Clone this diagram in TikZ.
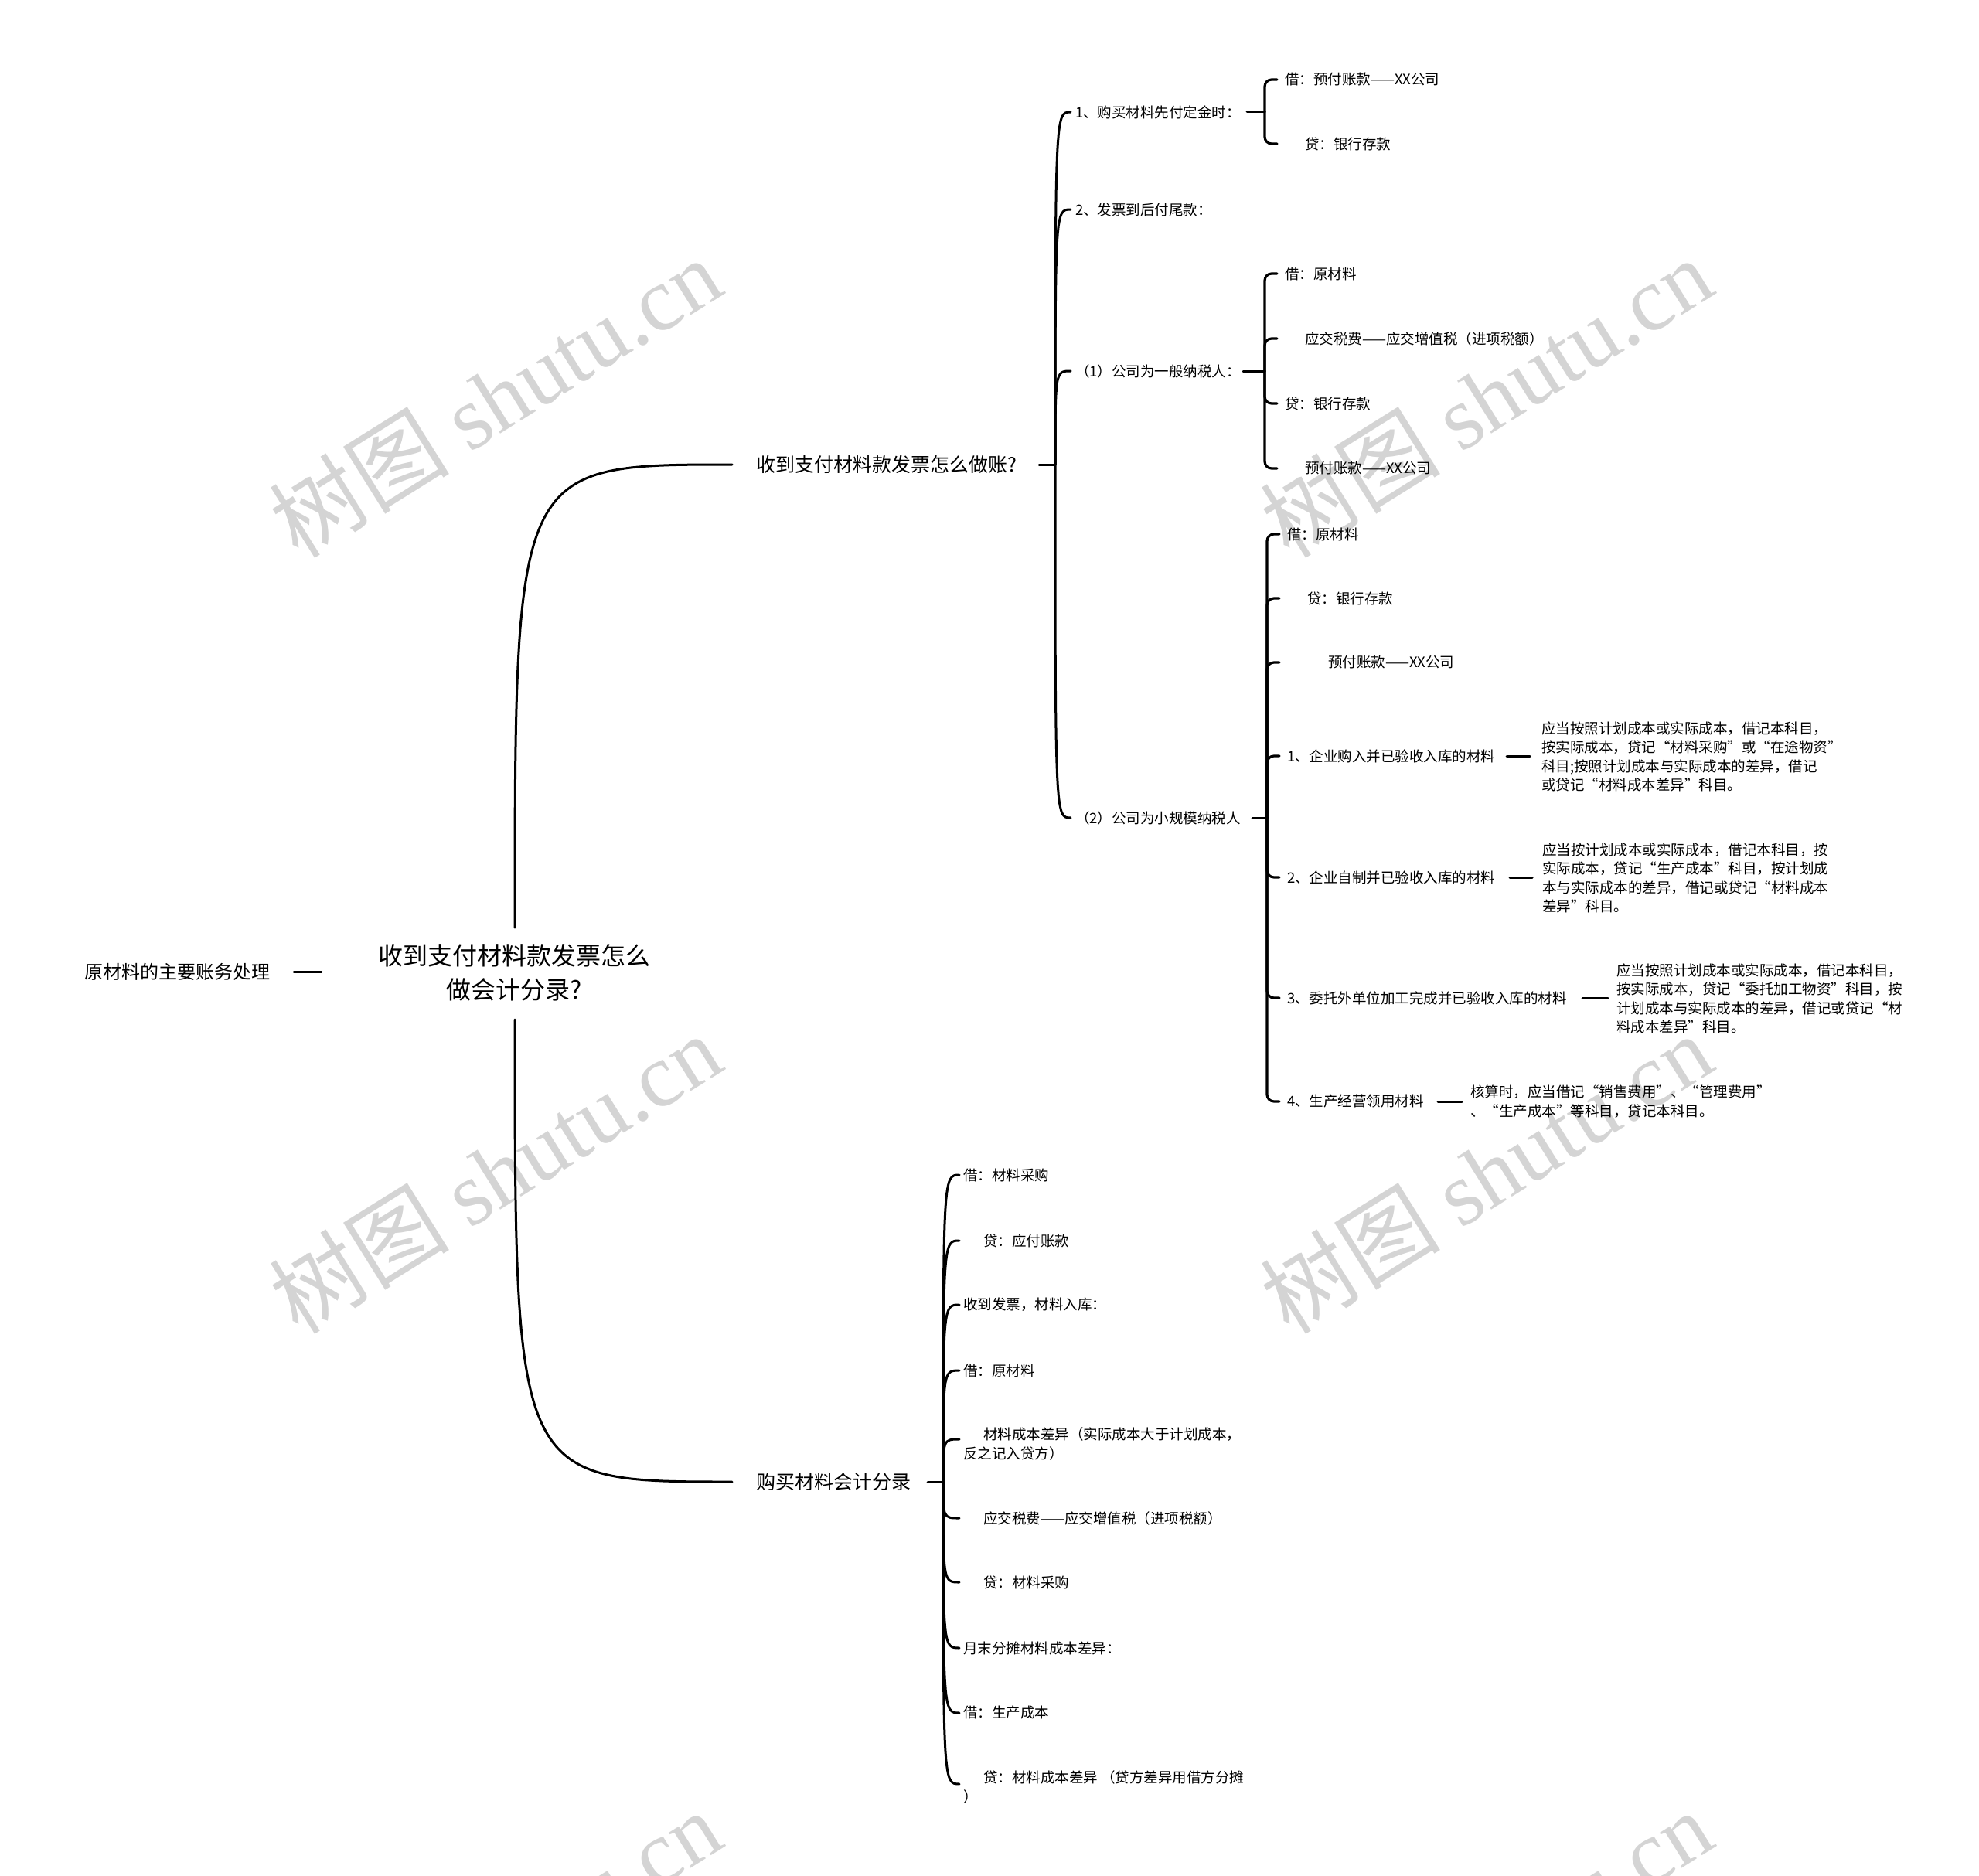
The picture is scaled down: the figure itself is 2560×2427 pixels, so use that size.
\documentclass[tikz,border=0pt]{standalone}
\usepackage{fontspec}
\setmainfont{Noto Sans CJK SC}
\newfontfamily\wmfont{Liberation Serif}
\tikzset{
  sm/.style={font=\fontsize{18.5pt}{24.5pt}\selectfont, inner sep=0pt, anchor=west, align=left},
  br/.style={font=\fontsize{25pt}{30pt}\selectfont, inner sep=0pt, anchor=west},
  ln/.style={line width=3pt, line cap=round, line join=round},
  bk/.style={line width=3.2pt, line cap=round, rounded corners=9pt},
  wm/.style={text=black!17, rotate=32, font=\fontsize{117pt}{117pt}\selectfont, inner sep=0pt}
}
\begin{document}
\begin{tikzpicture}[x=1pt,y=-1pt]
\useasboundingbox (0,0) rectangle (2560,2427);
\fill[white] (0,0) rectangle (2560,2427);
\clip (0,0) rectangle (2560,2427);
% watermarks
\node[wm] (w1) at (640,514) {树图 {\wmfont shutu.cn}};
\node[wm] (w2) at (1922,514) {树图 {\wmfont shutu.cn}};
\node[wm] (w3) at (640,1518) {树图 {\wmfont shutu.cn}};
\node[wm] (w4) at (1922,1518) {树图 {\wmfont shutu.cn}};
\node[wm] (w5) at (640,2523) {树图 {\wmfont shutu.cn}};
\node[wm] (w6) at (1922,2523) {树图 {\wmfont shutu.cn}};

% root and centre
\node[font=\fontsize{24pt}{28pt}\selectfont, inner sep=0pt, anchor=west] (root) at (109,1257) {原材料的主要账务处理};
\node[font=\fontsize{32pt}{44pt}\selectfont, align=center, inner sep=0pt] (cen) at (665,1258) {收到支付材料款发票怎么\\做会计分录?};
\coordinate (rs1) at (380,1257); \coordinate (rs2) at (416,1257);
\draw[ln] (rs1) -- (rs2);
\coordinate (ct) at (666,1200); \coordinate (cb) at (666,1319);

% branch 1
\node[br] (b1) at (978,601) {收到支付材料款发票怎么做账?};
\coordinate (b1l) at (947,601);
\draw[ln] (ct) .. controls (666,601) and (666,601) .. (b1l);
\coordinate (b1s) at (1344,601); \coordinate (j1) at (1365,601);
\draw[ln] (b1s) -- (j1);

\node[sm] (c1) at (1391,145) {1、购买材料先付定金时：};
\node[sm] (c2) at (1391,271) {2、发票到后付尾款：};
\node[sm] (c3) at (1391,480) {（1）公司为一般纳税人：};
\node[sm] (c4) at (1391,1058) {（2）公司为小规模纳税人};
\foreach \yy in {145,271,480,1058}{
  \draw[ln] (j1) .. controls (1365,\yy) .. (1385,\yy);
}

% c1 children
\coordinate (c1s) at (1613,145); \coordinate (k1) at (1636,145);
\draw[ln] (c1s) -- (k1);
\node[sm] (c1a) at (1662,103) {借：预付账款——XX公司};
\node[sm] (c1b) at (1688,186) {贷：银行存款};
\foreach \yy in {103,186}{ \draw[bk] (k1) |- (1652,\yy); }

% c3 children
\coordinate (c3s) at (1608,480); \coordinate (k3) at (1636,480);
\draw[ln] (c3s) -- (k3);
\node[sm] (c3a) at (1662,354) {借：原材料};
\node[sm] (c3b) at (1688,438) {应交税费——应交增值税（进项税额）};
\node[sm] (c3c) at (1662,522) {贷：银行存款};
\node[sm] (c3d) at (1688,606) {预付账款——XX公司};
\foreach \yy in {354,438,522,606}{ \draw[bk] (k3) |- (1652,\yy); }

% c4 children
\coordinate (c4s) at (1620,1058); \coordinate (k4) at (1639,1058);
\draw[ln] (c4s) -- (k4);
\node[sm] (c4a) at (1665,691) {借：原材料};
\node[sm] (c4b) at (1691,774) {贷：银行存款};
\node[sm] (c4c) at (1718,857) {预付账款——XX公司};
\node[sm] (c4d) at (1665,978) {1、企业购入并已验收入库的材料};
\node[sm] (c4e) at (1665,1135) {2、企业自制并已验收入库的材料};
\node[sm] (c4f) at (1665,1291) {3、委托外单位加工完成并已验收入库的材料};
\node[sm] (c4g) at (1665,1425) {4、生产经营领用材料};
\foreach \yy in {691,774,857,978,1135,1291,1425}{ \draw[bk] (k4) |- (1655,\yy); }

% details
\node[sm] (d1) at (1994,979) {应当按照计划成本或实际成本，借记本科目，\\按实际成本，贷记“材料采购”或“在途物资”\\科目;按照计划成本与实际成本的差异，借记\\或贷记“材料成本差异”科目。};
\node[sm] (d2) at (1995,1136) {应当按计划成本或实际成本，借记本科目，按\\实际成本，贷记“生产成本”科目，按计划成\\本与实际成本的差异，借记或贷记“材料成本\\差异”科目。};
\node[sm] (d3) at (2091,1292) {应当按照计划成本或实际成本，借记本科目，\\按实际成本，贷记“委托加工物资”科目，按\\计划成本与实际成本的差异，借记或贷记“材\\料成本差异”科目。};
\node[sm] (d4) at (1902,1425) {核算时，应当借记“销售费用”、“管理费用”\\、“生产成本”等科目，贷记本科目。};
\coordinate (e1a) at (1949,978); \coordinate (e1b) at (1979,978);
\coordinate (e2a) at (1953,1135); \coordinate (e2b) at (1982,1135);
\coordinate (e3a) at (2047,1291); \coordinate (e3b) at (2080,1291);
\coordinate (e4a) at (1860,1425); \coordinate (e4b) at (1891,1425);
\draw[ln] (e1a) -- (e1b);
\draw[ln] (e2a) -- (e2b);
\draw[ln] (e3a) -- (e3b);
\draw[ln] (e4a) -- (e4b);

% branch 2
\node[br] (b2) at (978,1917) {购买材料会计分录};
\coordinate (b2l) at (947,1917);
\draw[ln] (cb) .. controls (666,1917) and (666,1917) .. (b2l);
\coordinate (b2s) at (1200,1917); \coordinate (j2) at (1220,1917);
\draw[ln] (b2s) -- (j2);
\node[sm] (g1) at (1246,1520) {借：材料采购};
\node[sm] (g2) at (1272,1605) {贷：应付账款};
\node[sm] (g3) at (1246,1688) {收到发票，材料入库：};
\node[sm] (g4) at (1246,1773) {借：原材料};
\node[sm] (g5) at (1246,1868) {\hspace*{26pt}材料成本差异（实际成本大于计划成本，\\反之记入贷方）};
\node[sm] (g6) at (1272,1964) {应交税费——应交增值税（进项税额）};
\node[sm] (g7) at (1272,2047) {贷：材料采购};
\node[sm] (g8) at (1246,2132) {月末分摊材料成本差异：};
\node[sm] (g9) at (1246,2216) {借：生产成本};
\node[sm] (g10) at (1246,2312) {\hspace*{26pt}贷：材料成本差异 （贷方差异用借方分摊\\）};
\foreach \yy in {1520,1605,1688,1773,1862,1964,2047,2132,2216,2308}{
  \draw[ln] (j2) .. controls (1220,\yy) .. (1241,\yy);
}
\end{tikzpicture}
\end{document}
